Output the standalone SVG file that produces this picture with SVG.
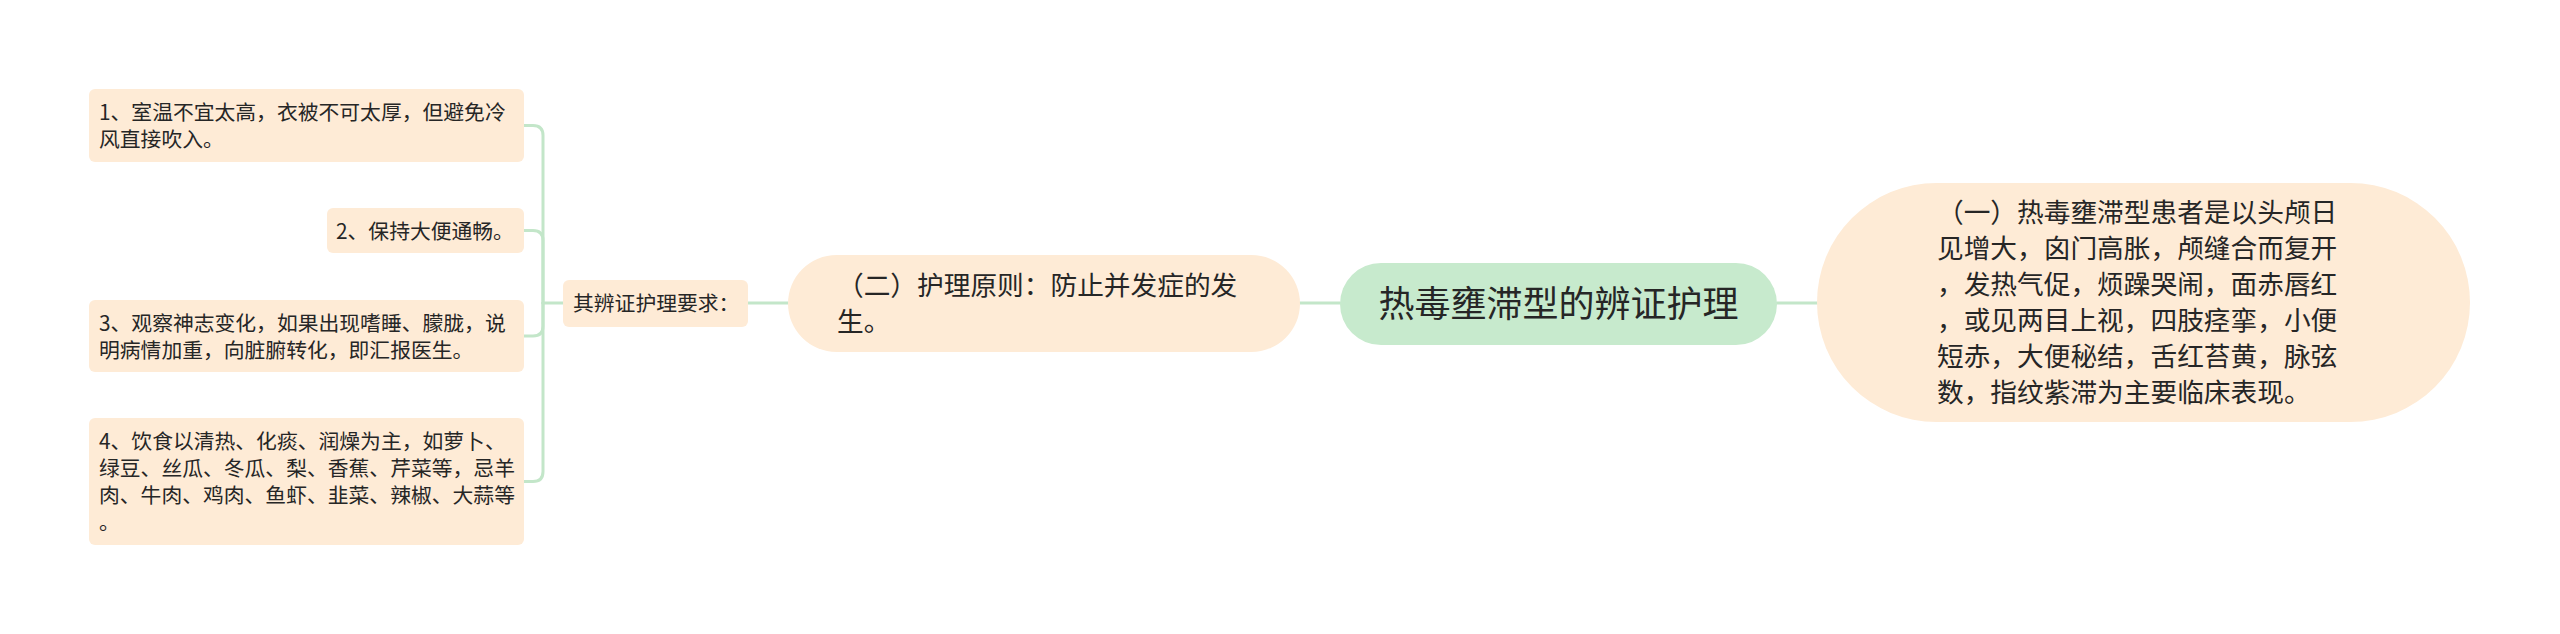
<svg xmlns="http://www.w3.org/2000/svg" width="2560" height="634" viewBox="0 0 2560 634">
<style>
text{font-family:"Noto Sans CJK SC","Noto Sans",sans-serif;fill:#262626}
.peach{fill:#feebd6}
.green{fill:#c7eacd}
.s{font-size:20.8px}
.m{font-size:26.7px}
.l{font-size:36px}
.conn path{fill:none;stroke:#c3e6c9;stroke-width:3;stroke-linecap:round}
</style>
<rect width="2560" height="634" fill="#ffffff"/>
<g class="conn">
<path d="M1777,303 H1817"/>
<path d="M1300,303 H1340"/>
<path d="M748,303 H788"/>
<path d="M563,303 H543"/>
<path d="M524,125.5 H533 Q543,125.5 543,135.5 V303"/>
<path d="M524,230.5 H533 Q543,230.5 543,240.5 V303"/>
<path d="M524,336 H533 Q543,336 543,326 V303"/>
<path d="M524,481.5 H533 Q543,481.5 543,471.5 V303"/>
</g>
<g id="center">
<rect class="green" x="1340" y="263" width="437" height="82" rx="41"/>
<text class="l" x="1558.5" y="316.5" text-anchor="middle">热毒壅滞型的辨证护理</text>
</g>
<g id="right">
<rect class="peach" x="1817" y="183" width="653" height="239" rx="119.5"/>
<text class="m" x="1937">
<tspan x="1937" y="222">（一）热毒壅滞型患者是以头颅日</tspan>
<tspan x="1937" y="258">见增大，囟门高胀，颅缝合而复开</tspan>
<tspan x="1937" y="294">，发热气促，烦躁哭闹，面赤唇红</tspan>
<tspan x="1937" y="330">，或见两目上视，四肢痉挛，小便</tspan>
<tspan x="1937" y="366">短赤，大便秘结，舌红苔黄，脉弦</tspan>
<tspan x="1937" y="402">数，指纹紫滞为主要临床表现。</tspan>
</text>
</g>
<g id="principle">
<rect class="peach" x="788" y="255" width="512" height="97" rx="48.5"/>
<text class="m">
<tspan x="837" y="295">（二）护理原则：防止并发症的发</tspan>
<tspan x="837" y="331">生。</tspan>
</text>
</g>
<g id="req">
<rect class="peach" x="563" y="280" width="185" height="47" rx="6"/>
<text class="s" x="573" y="311">其辨证护理要求：</text>
</g>
<g id="item1">
<rect class="peach" x="89" y="89" width="435" height="73" rx="6"/>
<text class="s">
<tspan x="99" y="120">1、室温不宜太高，衣被不可太厚，但避免冷</tspan>
<tspan x="99" y="147">风直接吹入。</tspan>
</text>
</g>
<g id="item2">
<rect class="peach" x="327" y="208" width="197" height="45" rx="6"/>
<text class="s" x="336" y="239">2、保持大便通畅。</text>
</g>
<g id="item3">
<rect class="peach" x="89" y="300" width="435" height="72" rx="6"/>
<text class="s">
<tspan x="99" y="331">3、观察神志变化，如果出现嗜睡、朦胧，说</tspan>
<tspan x="99" y="358">明病情加重，向脏腑转化，即汇报医生。</tspan>
</text>
</g>
<g id="item4">
<rect class="peach" x="89" y="418" width="435" height="127" rx="6"/>
<text class="s">
<tspan x="99" y="449">4、饮食以清热、化痰、润燥为主，如萝卜、</tspan>
<tspan x="99" y="476">绿豆、丝瓜、冬瓜、梨、香蕉、芹菜等，忌羊</tspan>
<tspan x="99" y="503">肉、牛肉、鸡肉、鱼虾、韭菜、辣椒、大蒜等</tspan>
<tspan x="99" y="530">。</tspan>
</text>
</g>
</svg>
